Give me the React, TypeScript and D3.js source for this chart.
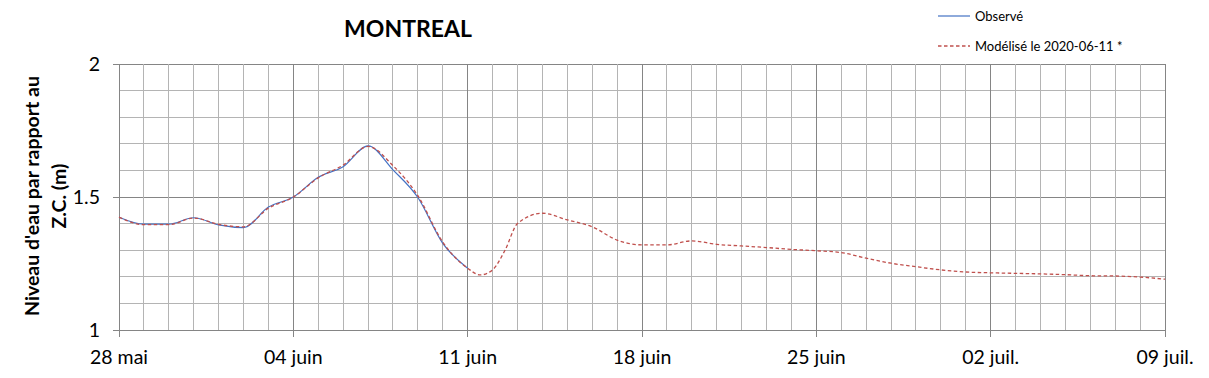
import React from "react";
import * as d3 from "d3";

const START = new Date(2020, 4, 28);
const dayOffsets = [0,1,2,3,4,5,6,7,8,9,10,11,12,13,14];
const observed = [1.424,1.398,1.398,1.422,1.395,1.385,1.462,1.500,1.574,1.614,1.692,1.602,1.498,1.326,1.232];
const modeledDays = [0,1,2,3,4,5,6,7,8,9,10,11,12,13,14,14.5,15,15.5,16,17,18,19,20,21,22,23,24,25,26,27,28,29,30,31,32,33,34,35,36,37,38,39,40,41,42];
const modeled = [1.424,1.396,1.396,1.421,1.397,1.388,1.458,1.500,1.572,1.620,1.690,1.618,1.505,1.330,1.232,1.207,1.226,1.300,1.400,1.439,1.414,1.388,1.338,1.320,1.320,1.335,1.322,1.316,1.310,1.303,1.298,1.291,1.270,1.251,1.238,1.226,1.218,1.215,1.213,1.211,1.208,1.204,1.203,1.199,1.191];
const xTickLabels = ["28 mai","04 juin","11 juin","18 juin","25 juin","02 juil.","09 juil."];
const yTickLabels = ["1","1.5","2"];
const title = "MONTREAL";
const legendLabels = ["Observé","Modélisé le 2020-06-11 *"];

const W = 1209, H = 378;
const L = 119, R = 1165, T = 64, B = 330;
const FONT = "Lato, 'Open Sans', sans-serif";
const MAJOR = "#858585";
const MINOR = "#b4b4b4";

export default function App() {
  const dayMs = 86400000;
  const x = d3.scaleTime().domain([START, new Date(START.getTime() + 42 * dayMs)]).range([L, R]);
  const y = d3.scaleLinear().domain([1, 2]).range([B, T]);
  const toDate = (d: number) => new Date(START.getTime() + d * dayMs);
  const line = d3.line<[number, number]>().x(d => x(toDate(d[0]))).y(d => y(d[1])).curve(d3.curveMonotoneX);
  const obsPath = line(dayOffsets.map((d, i) => [d, observed[i]]) as [number, number][]) || "";
  const modPath = line(modeledDays.map((d, i) => [d, modeled[i]]) as [number, number][]) || "";
  const days = d3.range(0, 43);
  const hVals = d3.range(0, 11).map(i => 1 + i * 0.1);
  return (
    <svg width={W} height={H} style={{ position: "absolute", left: 0, top: 0, background: "#fff" }} fontFamily={FONT}>
      <rect x={0} y={0} width={W} height={H} fill="#fff" />
      {hVals.map((v, i) => (
        <line key={"h" + i} x1={L} x2={R} y1={y(v)} y2={y(v)} stroke={i % 5 === 0 ? MAJOR : MINOR} strokeWidth={1} shapeRendering="crispEdges" />
      ))}
      {days.map(d => (
        <line key={"v" + d} x1={x(toDate(d))} x2={x(toDate(d))} y1={T} y2={B} stroke={d % 7 === 0 ? MAJOR : MINOR} strokeWidth={1} shapeRendering="crispEdges" />
      ))}
      <line x1={L} x2={L} y1={T} y2={B} stroke={MAJOR} shapeRendering="crispEdges" />
      <line x1={L} x2={R} y1={B} y2={B} stroke={MAJOR} shapeRendering="crispEdges" />
      {yTickLabels.map((t, i) => (
        <g key={"yt" + i}>
          <line x1={L - 6} x2={L} y1={y(+t)} y2={y(+t)} stroke={MAJOR} shapeRendering="crispEdges" />
          <text x={L - 19} y={y(+t)} dy="0.35em" textAnchor="end" fontSize={19.5} fill="#000">{t}</text>
        </g>
      ))}
      {xTickLabels.map((t, i) => (
        <g key={"xt" + i}>
          <line x1={x(toDate(i * 7))} x2={x(toDate(i * 7))} y1={B} y2={B + 7} stroke={MAJOR} shapeRendering="crispEdges" />
          <text x={x(toDate(i * 7))} y={364} textAnchor="middle" fontSize={19.5} fill="#000">{t}</text>
        </g>
      ))}
      <path d={obsPath} fill="none" stroke="#4472C4" strokeWidth={1.2} />
      <path d={modPath} fill="none" stroke="#C0504D" strokeWidth={1.3} strokeDasharray="3.5,2.5" />
      <text x={408} y={37} textAnchor="middle" fontSize={23} fontWeight="bold" fill="#000">{title}</text>
      <g transform="translate(39,196) rotate(-90)">
        <text x={0} y={0} textAnchor="middle" fontSize={19.5} fontWeight="bold" fill="#000">Niveau d'eau par rapport au</text>
        <text x={0} y={27} textAnchor="middle" fontSize={19.5} fontWeight="bold" fill="#000">Z.C. (m)</text>
      </g>
      <line x1={938} x2={970} y1={16} y2={16} stroke="#4472C4" strokeWidth={1.2} />
      <text x={975} y={16} dy="0.35em" fontSize={13} fill="#000">{legendLabels[0]}</text>
      <line x1={938} x2={970} y1={46} y2={46} stroke="#C0504D" strokeWidth={1.3} strokeDasharray="3.5,2.5" />
      <text x={975} y={46} dy="0.35em" fontSize={13} fill="#000">{legendLabels[1]}</text>
    </svg>
  );
}
